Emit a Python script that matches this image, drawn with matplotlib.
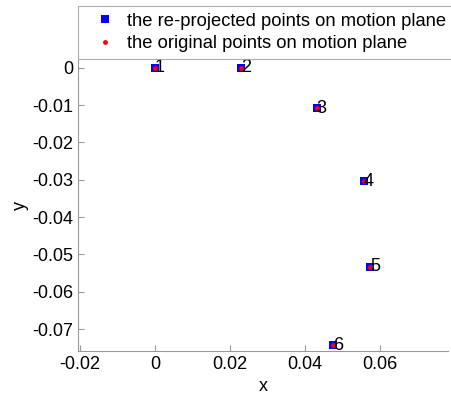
import matplotlib
matplotlib.use("Agg")
import matplotlib.pyplot as plt

labels = ["1", "2", "3", "4", "5", "6"]
x_reproj = [0.0, 0.0229, 0.0432, 0.0557, 0.0574, 0.0476]
y_reproj = [0.0, 0.0, -0.0109, -0.0304, -0.0533, -0.0743]
x_orig = [0.0, 0.0229, 0.0432, 0.0557, 0.0574, 0.0476]
y_orig = [0.0, 0.0, -0.0109, -0.0304, -0.0533, -0.0743]
xticks = [-0.02, 0, 0.02, 0.04, 0.06]
xticklabels = ["-0.02", "0", "0.02", "0.04", "0.06"]
yticks = [0, -0.01, -0.02, -0.03, -0.04, -0.05, -0.06, -0.07]
yticklabels = ["0", "-0.01", "-0.02", "-0.03", "-0.04", "-0.05", "-0.06", "-0.07"]

plt.rcParams['font.family'] = ['Liberation Sans', 'DejaVu Sans']

fig = plt.figure(figsize=(4.52, 3.94), dpi=100)
ax = fig.add_axes([0.1726, 0.11, 0.8186, 0.738])

h1, = ax.plot(x_reproj, y_reproj, 's', color='#0000ff', markersize=6, markeredgewidth=0,
              label='the re-projected points on motion plane')
h2, = ax.plot(x_orig, y_orig, 'o', color='#ff0000', markersize=3.5, markeredgewidth=0,
              label='the original points on motion plane')
for xi, yi, t in zip(x_reproj, y_reproj, labels):
    ax.text(xi, yi, t, fontsize=13, ha='left', va='center')

ax.set_xlim(-0.0205, 0.0782)
ax.set_ylim(-0.0758, 0.0021)
ax.set_xticks(xticks)
ax.set_xticklabels(xticklabels)
ax.set_yticks(yticks)
ax.set_yticklabels(yticklabels)
ax.tick_params(direction='in', length=4, color='#999999', labelsize=13, width=0.8)
for s in ['top', 'right']:
    ax.spines[s].set_visible(False)
for s in ['left', 'bottom']:
    ax.spines[s].set_color('#999999')
ax.set_xlabel('x', fontsize=13, labelpad=4)
ax.set_ylabel('y', fontsize=13, labelpad=2)

leg = fig.legend(handles=[h1, h2], loc='upper left', bbox_to_anchor=(0.1726, 0.855, 0.827, 0.13),
                 mode='expand', fontsize=13.2, frameon=True, fancybox=False, borderaxespad=0,
                 handlelength=2.2, handletextpad=0.1, labelspacing=0.28, borderpad=0.38)
leg.get_frame().set_edgecolor('#999999')
leg.get_frame().set_linewidth(0.8)

fig.savefig('out.png', dpi=100)
